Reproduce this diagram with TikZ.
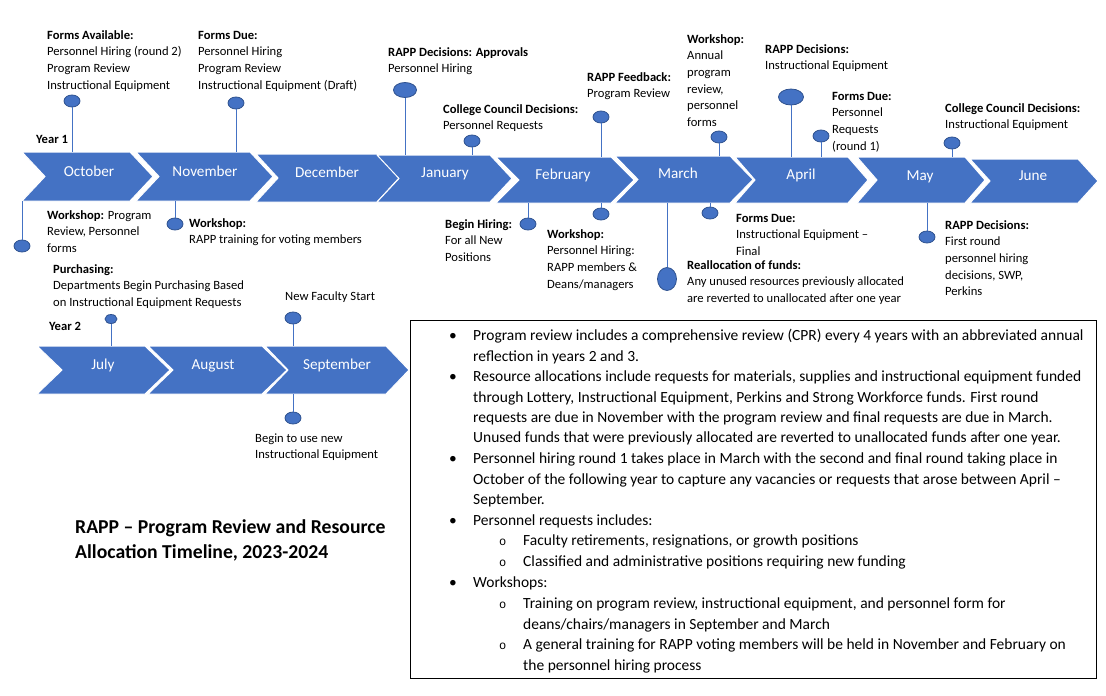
\documentclass[tikz,border=0pt]{standalone}
\usepackage{fontspec}
\setmainfont{Carlito}
\newfontfamily\monofam{Liberation Mono}
\usetikzlibrary{shapes.geometric}
\definecolor{oblue}{HTML}{4472C4}
\definecolor{odark}{HTML}{2F528F}
% chevron: L, tip, T, B, depth
\newcommand\chevpath[5]{(#1,#3) -- ({#2-#5},#3) -- (#2,{(#3+#4)/2}) -- ({#2-#5},#4) -- (#1,#4) -- ({#1+#5},{(#3+#4)/2}) -- cycle}
\tikzset{
  chevron/.style={fill=oblue, draw=white, line width=1pt},
  month/.style={anchor=base, inner sep=0, text=white, font=\fontsize{15.2}{18}\selectfont},
  dot/.style={ellipse, fill=oblue, draw=odark, line width=0.8pt, inner sep=0, minimum width=16, minimum height=12},
  stem/.style={draw=oblue, line width=1pt},
  lbl/.style={anchor=north west, inner sep=0, align=left, font=\fontsize{12.6}{16.6}\selectfont},
  boxtxt/.style={anchor=north west, inner sep=0, align=left, font=\fontsize{15.5}{20.4}\selectfont},
  bmark/.style={anchor=north west, inner sep=0, font=\fontsize{15.5}{20.4}\selectfont},
  omark/.style={anchor=north west, inner sep=0, font=\fontsize{12}{20.4}\monofam},
  titletxt/.style={anchor=north west, inner sep=0, align=left, font=\fontsize{19.7}{25}\selectfont\bfseries},
}
\begin{document}
\begin{tikzpicture}[x=1pt, y=-1pt]
\useasboundingbox (0,0) rectangle (1106,696);
% ---- Year 1 chevrons
\path[chevron] \chevpath{22}{153}{152}{201}{23};
\path[chevron] \chevpath{136}{273}{152}{201}{23};
\path[chevron] \chevpath{256}{399}{154}{202}{22};
\path[chevron] \chevpath{377}{512}{155}{202}{22};
\path[chevron] \chevpath{496}{634}{157}{203}{23};
\path[chevron] \chevpath{615}{753}{156}{203}{23};
\path[chevron] \chevpath{735}{868}{157}{203}{20};
\path[chevron] \chevpath{857}{985}{157}{203}{20};
\path[chevron] \chevpath{970}{1098}{159}{203}{20};
\node[month] (oct) at (89,176.5) {October};
\node[month] (nov) at (205,176.5) {November};
\node[month] (dec) at (327,177.5) {December};
\node[month] (jan) at (445,177.5) {January};
\node[month] (feb) at (563,179.5) {February};
\node[month] (mar) at (678,178.5) {March};
\node[month] (apr) at (801,179.5) {April};
\node[month] (may) at (920,180.5) {May};
\node[month] (jun) at (1033,180.5) {June};
% ---- Year 2 chevrons
\path[chevron] \chevpath{37}{170}{346}{394}{25};
\path[chevron] \chevpath{148}{287}{346}{394}{25};
\path[chevron] \chevpath{265}{409}{346}{394}{23};
\node[month] (jul) at (103,369.5) {July};
\node[month] (aug) at (213,369.5) {August};
\node[month] (sep) at (337,369.5) {September};
% ---- stem end coordinates
\coordinate (c1) at (72,152);
\coordinate (c2) at (236,152);
\coordinate (c3) at (405,155);
\coordinate (c4) at (472,155);
\coordinate (c5) at (601,157);
\coordinate (c6) at (719,156);
\coordinate (c7) at (791,157);
\coordinate (c8) at (821,157);
\coordinate (c9) at (952,157);
\coordinate (b1) at (22,201);
\coordinate (b2) at (175,201);
\coordinate (b3) at (528,203);
\coordinate (b4) at (601,203);
\coordinate (b5) at (667,203);
\coordinate (b6) at (710,203);
\coordinate (b7) at (927,203);
\coordinate (y1) at (111,346);
\coordinate (y2) at (293,346);
\coordinate (y3) at (293,394);
% ---- dots
\node[dot] (d1) at (72,101) {};
\node[dot] (d2) at (236,103) {};
\node[dot, minimum width=23, minimum height=15] (d3) at (405,90) {};
\node[dot] (d4) at (472,141) {};
\node[dot] (d5) at (601,117) {};
\node[dot] (d6) at (719,137) {};
\node[dot, minimum width=25, minimum height=16] (d7) at (791,97) {};
\node[dot] (d8) at (821,136) {};
\node[dot] (d9) at (952,143) {};
\node[dot] (e1) at (22,246) {};
\node[dot] (e2) at (175,224) {};
\node[dot] (e3) at (528,224) {};
\node[dot] (e4) at (601,214) {};
\node[dot, minimum width=19, minimum height=23] (e5) at (667,279) {};
\node[dot] (e6) at (710,213) {};
\node[dot] (e7) at (927,237) {};
\node[dot, minimum width=12, minimum height=9] (f1) at (111,319) {};
\node[dot] (f2) at (293,318) {};
\node[dot] (f3) at (293,418) {};
% ---- stems
\foreach \a/\b in {d1/c1,d2/c2,d3/c3,d4/c4,d5/c5,d6/c6,d7/c7,d8/c8,d9/c9,e1/b1,e2/b2,e3/b3,e4/b4,e5/b5,e6/b6,e7/b7,f1/y1,f2/y2,f3/y3}
  \draw[stem] (\a) -- (\b);
% ---- labels above
\node[lbl] (l1) at (47,27.5) {\strut\textbf{Forms Available:}\\Personnel Hiring (round 2)\\Program Review\\Instructional Equipment};
\node[lbl] (l2) at (198,27.5) {\strut\textbf{Forms Due:}\\Personnel Hiring\\Program Review\\Instructional Equipment (Draft)};
\node[lbl] (l3) at (388,44.5) {\strut\textbf{RAPP Decisions: Approvals}\\Personnel Hiring};
\node[lbl] (l4) at (443,101.5) {\strut\textbf{College Council Decisions:}\\Personnel Requests};
\node[lbl] (l5) at (587,69.5) {\strut\textbf{RAPP Feedback:}\\Program Review};
\node[lbl] (l6) at (687,31.5) {\strut\textbf{Workshop:}\\Annual\\program\\review,\\personnel\\forms};
\node[lbl] (l7) at (765,41.5) {\strut\textbf{RAPP Decisions:}\\Instructional Equipment};
\node[lbl] (l8) at (832,88.5) {\strut\textbf{Forms Due:}\\Personnel\\Requests\\(round 1)};
\node[lbl] (l9) at (945,100.5) {\strut\textbf{College Council Decisions:}\\Instructional Equipment};
\node[lbl] (yr1) at (36,131.5) {\strut\textbf{Year 1}};
% ---- labels below
\node[lbl] (m1) at (47,207.5) {\strut\textbf{Workshop:} Program\\Review, Personnel\\forms};
\node[lbl] (m2) at (189,215.5) {\strut\textbf{Workshop:}\\RAPP training for voting members};
\node[lbl] (m3) at (53,261.5) {\strut\textbf{Purchasing:}\\Departments Begin Purchasing Based\\on Instructional Equipment Requests};
\node[lbl] (m4) at (445,216.5) {\strut\textbf{Begin Hiring:}\\For all New\\Positions};
\node[lbl] (m5) at (547,226.5) {\strut\textbf{Workshop:}\\Personnel Hiring:\\RAPP members \&\\Deans/managers};
\node[lbl] (m6) at (687,257.5) {\strut\textbf{Reallocation of funds:}\\Any unused resources previously allocated\\are reverted to unallocated after one year};
\node[lbl] (m7) at (736,210.5) {\strut\textbf{Forms Due:}\\Instructional Equipment –\\Final};
\node[lbl] (m8) at (945,217.5) {\strut\textbf{RAPP Decisions:}\\First round\\personnel hiring\\decisions, SWP,\\Perkins};
\node[lbl] (n1) at (285,288.5) {\strut New Faculty Start};
\node[lbl] (yr2) at (49,318.5) {\strut\textbf{Year 2}};
\node[lbl] (n2) at (255,430.5) {\strut Begin to use new\\Instructional Equipment};
% ---- title
\node[titletxt] (title) at (75,515.5) {\strut RAPP – Program Review and Resource\\Allocation Timeline, 2023-2024};
% ---- notes box
\draw[black, line width=1pt] (410,320) rectangle (1096,678);
\node[bmark] (bm1) at (449,326.3) {\strut•};
\node[boxtxt] (i1) at (473,326.3) {\strut Program review includes a comprehensive review (CPR) every 4 years with an abbreviated annual\\reflection in years 2 and 3.};
\node[bmark] (bm2) at (449,367.3) {\strut•};
\node[boxtxt] (i2) at (473,367.3) {\strut Resource allocations include requests for materials, supplies and instructional equipment funded\\through Lottery, Instructional Equipment, Perkins and Strong Workforce funds. First round\\requests are due in November with the program review and final requests are due in March.\\Unused funds that were previously allocated are reverted to unallocated funds after one year.};
\node[bmark] (bm3) at (449,449.3) {\strut•};
\node[boxtxt] (i3) at (473,449.3) {\strut Personnel hiring round 1 takes place in March with the second and final round taking place in\\October of the following year to capture any vacancies or requests that arose between April –\\September.};
\node[bmark] (bm4) at (449,511.3) {\strut•};
\node[boxtxt] (i4) at (473,511.3) {\strut Personnel requests includes:};
\node[omark] (om1) at (499,531.3) {\strut o};
\node[boxtxt] (s1) at (523,531.3) {\strut Faculty retirements, resignations, or growth positions};
\node[omark] (om2) at (499,552.3) {\strut o};
\node[boxtxt] (s2) at (523,552.3) {\strut Classified and administrative positions requiring new funding};
\node[bmark] (bm5) at (449,573.3) {\strut•};
\node[boxtxt] (i5) at (473,573.3) {\strut Workshops:};
\node[omark] (om3) at (499,594.3) {\strut o};
\node[boxtxt] (s3) at (523,594.3) {\strut Training on program review, instructional equipment, and personnel form for\\deans/chairs/managers in September and March};
\node[omark] (om4) at (499,635.3) {\strut o};
\node[boxtxt] (s4) at (523,635.3) {\strut A general training for RAPP voting members will be held in November and February on\\the personnel hiring process};
\end{tikzpicture}
\end{document}
